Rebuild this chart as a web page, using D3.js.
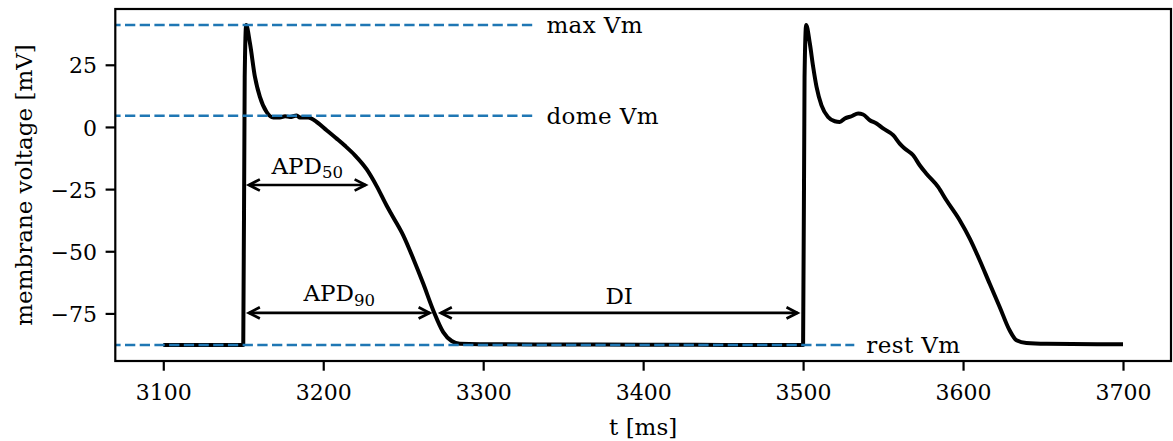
<!DOCTYPE html>
<html><head><meta charset="utf-8">
<script src="https://cdn.jsdelivr.net/npm/d3@7"></script>
<style>
body{margin:0;background:#fff}
svg{display:block}
text{font-family:"DejaVu Serif","Liberation Serif",serif;fill:#000}
</style>
</head><body>
<svg id="c" width="1173" height="441"></svg>
<script>
// ---- data ----
const time = [
  3100, 3150, 3150.9, 3151.8, 3154.2, 3157.3, 3160.4, 3164.6, 3168.8, 3172.9,
  3176.1, 3179.2, 3183.4, 3185.4, 3190.6, 3195.9, 3202.1, 3208.4, 3213.6, 3219.8,
  3227.1, 3233.4, 3239.6, 3243.8, 3250.0, 3256.3, 3262.5, 3268.8, 3275.0, 3280.3,
  3285.4, 3297.9, 3350, 3400, 3450, 3500,
  3500.9, 3501.9, 3504.2, 3506.3, 3508.4, 3511.5, 3515.6, 3519.8, 3522.9, 3526.1,
  3530.3, 3534.4, 3537.5, 3541.7, 3545.9, 3550.0, 3556.3, 3560.4, 3563.5, 3568.8,
  3572.9, 3577.1, 3584.4, 3589.6, 3597.9, 3604.2, 3610.4, 3616.6, 3622.9, 3629.1,
  3633.4, 3639.6, 3652.1, 3700
];
const voltage = [
  -87.7, -87.7, 20, 41.0, 33.6, 20.1, 12.1, 6.0, 3.8, 3.8,
  4.3, 4.0, 4.6, 3.8, 3.8, 2.0, -1.3, -4.7, -7.6, -11.4,
  -17.0, -23.8, -31.6, -36.4, -43.6, -53.0, -63.0, -73.8, -82.5, -86.1,
  -87.2, -87.4, -87.5, -87.6, -87.65, -87.7,
  20, 41.0, 33.6, 24.1, 16.1, 8.7, 4.0, 2.3, 2.0, 3.4,
  4.3, 5.4, 5.0, 2.7, 1.4, -0.6, -3.3, -6.7, -8.7, -11.4,
  -15.4, -18.8, -24.1, -29.5, -37.5, -44.9, -53.6, -63.0, -72.4, -81.8,
  -85.8, -86.9, -87.2, -87.4
];
const xTicks = [3100, 3200, 3300, 3400, 3500, 3600, 3700];
const yTicks = [-75, -50, -25, 0, 25];
const refNames = ["max Vm", "dome Vm", "rest Vm"];
const refValues = [41.0, 4.5, -87.7];
const refEnds = [3332, 3332, 3532];
const arrowMain = ["APD", "APD", "DI"];
const arrowSub = ["50", "90", ""];
const arrowStart = [3150, 3150, 3270];
const arrowEnd = [3230, 3270, 3500];
const arrowLevel = [-23.35, -74.8, -74.8];
const xLabel = "t [ms]";
const yLabel = "membrane voltage [mV]";

// ---- layout ----
const L = 115.3, R = 1171, T = 9, B = 361;
const FS = 23, TFS = 22;
const FF = '"DejaVu Serif","Liberation Serif",serif';
const svg = d3.select("#c");

const [tmin, tmax] = d3.extent(time);
const [vmin, vmax] = d3.extent(voltage);
const tp = (tmax - tmin) * 0.05, vp = (vmax - vmin) * 0.05;
const x = d3.scaleLinear().domain([tmin - tp, tmax + tp]).range([L, R]);
const y = d3.scaleLinear().domain([vmin - vp, vmax + vp]).range([B, T]);

svg.append("defs").append("clipPath").attr("id", "clip")
  .append("rect").attr("x", L).attr("y", T).attr("width", R - L).attr("height", B - T);

const plot = svg.append("g").attr("clip-path", "url(#clip)");

// trace
const pts = time.map((t, i) => [t, voltage[i]]);
plot.append("path").datum(pts)
  .attr("fill", "none").attr("stroke", "#000").attr("stroke-width", 4)
  .attr("stroke-linejoin", "round")
  .attr("d", d3.line().x(d => x(d[0])).y(d => y(d[1])).curve(d3.curveMonotoneX));

// reference lines
refValues.forEach((v, i) => {
  plot.append("line")
    .attr("x1", x(tmin - tp) - 5).attr("x2", x(refEnds[i]))
    .attr("y1", y(v)).attr("y2", y(v))
    .attr("stroke", "#1f77b4").attr("stroke-width", 2.6)
    .attr("stroke-dasharray", "10.3,4.4");
  svg.append("text")
    .attr("x", x(refEnds[i]) + 12).attr("y", y(v) + 8.3)
    .attr("font-size", FS).attr("font-family", FF).attr("letter-spacing", "0.4px")
    .text(refNames[i]);
});

// arrows
const sh = 5.6, hl = 11, hw = 5.6;
arrowMain.forEach((m, i) => {
  const x0 = x(arrowStart[i]) + sh, x1 = x(arrowEnd[i]) - sh, yy = y(arrowLevel[i]);
  const g = svg.append("g").attr("stroke", "#000").attr("stroke-width", 2.7)
    .attr("fill", "none").attr("stroke-linecap", "butt").attr("stroke-linejoin", "miter");
  g.append("line").attr("x1", x0).attr("x2", x1).attr("y1", yy).attr("y2", yy);
  g.append("path").attr("d", `M${x0 + hl},${yy - hw}L${x0},${yy}L${x0 + hl},${yy + hw}`);
  g.append("path").attr("d", `M${x1 - hl},${yy - hw}L${x1},${yy}L${x1 - hl},${yy + hw}`);
  const t = svg.append("text")
    .attr("x", (x0 + x1) / 2)
    .attr("y", yy - (arrowSub[i] ? 11.5 : 8.5))
    .attr("text-anchor", "middle").attr("font-size", FS).attr("font-family", FF);
  t.append("tspan").text(m);
  if (arrowSub[i]) t.append("tspan").attr("font-size", FS * 0.72).attr("dy", 4.5).text(arrowSub[i]);
});

// axes
const xa = svg.append("g").attr("transform", `translate(0,${B})`)
  .call(d3.axisBottom(x).tickValues(xTicks).tickSize(9.7).tickSizeOuter(0).tickFormat(d3.format("d")));
xa.select(".domain").remove();
xa.selectAll("line").attr("stroke", "#000").attr("stroke-width", 2.2);
xa.selectAll("text").attr("y", 38.5).attr("dy", null)
  .attr("font-size", TFS).attr("font-family", FF).attr("fill", "#000");

const ya = svg.append("g").attr("transform", `translate(${L},0)`)
  .call(d3.axisLeft(y).tickValues(yTicks).tickSize(9.7).tickSizeOuter(0)
    .tickFormat(d => d < 0 ? "\u2212" + Math.abs(d) : String(d)));
ya.select(".domain").remove();
ya.selectAll("line").attr("stroke", "#000").attr("stroke-width", 2.2);
ya.selectAll("text").attr("x", -18.3).attr("dy", null).attr("y", 8.2)
  .attr("font-size", TFS).attr("font-family", FF).attr("fill", "#000");

// frame
svg.append("rect").attr("x", L).attr("y", T).attr("width", R - L).attr("height", B - T)
  .attr("fill", "none").attr("stroke", "#000").attr("stroke-width", 2.2);

// axis labels
svg.append("text").attr("x", (L + R) / 2).attr("y", 435)
  .attr("text-anchor", "middle").attr("font-size", FS).attr("font-family", FF).text(xLabel);
svg.append("text").attr("transform", `translate(31.7,${(T + B) / 2}) rotate(-90)`)
  .attr("text-anchor", "middle").attr("font-size", FS).attr("font-family", FF).text(yLabel);
</script>
</body></html>
